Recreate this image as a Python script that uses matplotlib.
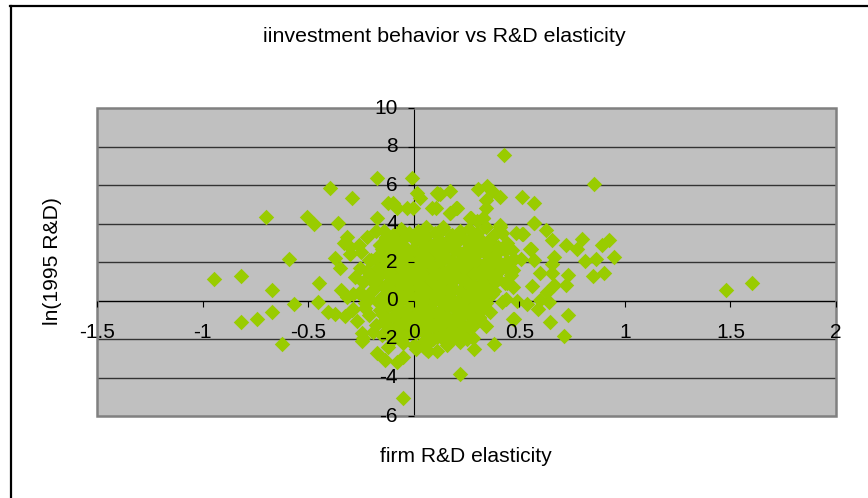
import matplotlib
matplotlib.use('Agg')
import matplotlib.pyplot as plt
from matplotlib.transforms import ScaledTranslation

plt.rcParams['font.family'] = ['Liberation Sans', 'DejaVu Sans']
plt.rcParams['axes.unicode_minus'] = False

# points: scattered ones first, then the dense middle
elasticity_outer = [
    .427, .853, 1.60, 1.48, .95, .924, .89, .90, .85, .863, .796, .81, .773, .72, .73, .72, .73, .71, .645, .654,
    .625, .569, .569, .512, .554, .569, .663, .654, .60, .654, .56, .663, .63, .597, .64, .588, .535, .474, .34, .469,
    .436, .488, .512, .483, .41, .464, .507, .474, .41, .346, .303, .37, .34, .34, .17, .114, .20, .17, .104, .27,
    .33, .30, .14, -.01, -.175, -.398, -.294, -.70, -.507, -.474, -.36, -.175, -.318, -.123, -.10, -.08, -.033, -.005, .014, .028,
    .109, .123, .17, .085, .204, .265, .327, .408, .517, .55, .569, -.59, -.948, -.82, -.673, -.45, -.455, -.569, -.673, -.74,
    -.82, -.626, -.407, -.374, -.327, -.27, -.346, -.318, -.289, -.242, -.289, -.374, -.35, -.256, -.28, -.246, -.246, -.175, -.137, -.08,
    -.05, -.052, .06, .218, .38, .284, .066, .076, .16, .218, .28, .232, .47, -.194, -.123, -.147, -.242, -.30, -.33, -.26,
    -.22, -.18, -.30, -.25, -.21, -.16, -.13, -.20, -.17, -.12, -.29, -.23, -.19,
]
rd_outer = [
    7.58, 6.03, .93, .52, 2.28, 3.12, 2.9, 1.45, 1.25, 2.18, 3.2, 2.03, 2.7, 2.9, 1.3, .78, -.73, -1.87, -1.14, 3.12,
    3.64, 4.05, 5.09, 5.4, 2.7, 2.08, 2.28, 1.92, 1.45, 1.45, .73, .78, .42, .05, -.1, -.42, -.2, -.94, -1.35, .68,
    .1, -.05, 3.48, 3.53, 3.8, 2.6, 2.18, 2.18, 5.4, 5.97, 5.77, 5.7, 5.2, 4.83, 5.7, 5.55, 4.83, 4.57, 4.83, 4.26,
    4.26, 4.15, 3.8, 6.34, 6.34, 5.82, 5.3, 4.36, 4.36, 3.95, 4.05, 4.26, 3.32, 5.09, 5.09, 4.83, 4.78, 4.78, 5.6, 5.3,
    5.6, 5.55, 4.57, 4.78, 4.78, 4.26, 4.26, 3.9, 3.43, 2.7, 4.05, 2.18, 1.14, 1.25, .52, .93, -.1, -.2, -.62, -.94,
    -1.14, -2.28, -.62, -.68, -.83, -1.04, .52, .16, .36, .26, -.42, 2.23, 1.71, 1.71, 1.2, -1.71, -2.08, -2.75, -3.1, -3.2,
    -2.96, -5.09, -2.54, -3.84, -2.28, -2.5, -2.6, -2.08, -1.97, -2.18, -1.97, -1.82, -.94, -1.66, -2.44, -1.14, -1.97, 2.8, 3.0, 2.9,
    3.3, 3.6, 2.4, 2.5, 2.1, 2.9, 3.3, 1.3, 1.7, 2.2, -.5, -.4, .9,
]
elasticity_mid = [
    -.14, -.10, -.06, -.02, .02, .06, .10, .14, .18, .22, .26, .30, .34, .38, .42,
    -.16, -.12, -.08, -.04, .00, .04, .08, .12, .16, .20, .24, .28, .32, .36, .40, .44,
    -.18, -.13, -.09, -.05, -.01, .03, .07, .11, .15, .19, .23, .27, .31, .35, .39, .43,
    -.15, -.11, -.07, -.03, .01, .05, .09, .13, .17, .21, .25, .29, .33, .37, .41, .45,
    -.17, -.12, -.08, -.04, .00, .04, .08, .12, .16, .20, .24, .28, .32, .36, .40,
    -.19, -.14, -.10, -.06, -.02, .02, .06, .10, .14, .18, .22, .26, .30, .34, .38,
    -.21, -.15, -.11, -.07, -.03, .01, .05, .09, .13, .17, .21, .25, .29, .33,
    -.16, -.12, -.08, -.04, .00, .04, .08, .12, .16, .20, .24, .28, .32,
    -.13, -.09, -.05, -.01, .03, .07, .11, .15, .19, .23, .27, .31,
    -.12, -.07, -.03, .02, .06, .10, .14, .18, .22, .26,
    -.10, -.05, .00, .05, .09, .13, .17, .21, .25,
    .01, .05, .11, .16, .21, .26, .31, .36, .42, .39, .44, .35, .47, .30,
]
rd_mid = [
    3.6, 3.4, 3.7, 3.5, 3.6, 3.8, 3.5, 3.7, 3.4, 3.6, 3.7, 3.5, 3.8, 3.4, 3.5,
    2.9, 3.0, 3.1, 2.8, 3.2, 3.0, 2.9, 3.1, 2.8, 3.0, 3.2, 2.9, 3.0, 3.1, 2.8, 3.0,
    2.2, 2.4, 2.5, 2.3, 2.6, 2.4, 2.2, 2.5, 2.3, 2.6, 2.4, 2.2, 2.5, 2.3, 2.4, 2.6,
    1.7, 1.9, 1.8, 2.0, 1.7, 1.9, 1.8, 2.0, 1.7, 1.9, 1.8, 2.0, 1.7, 1.9, 1.8, 1.6,
    1.2, 1.3, 1.1, 1.4, 1.2, 1.3, 1.1, 1.4, 1.2, 1.3, 1.1, 1.4, 1.2, 1.3, 1.1,
    .6, .7, .5, .8, .6, .7, .5, .8, .6, .7, .5, .8, .6, .7, .5,
    .1, .2, .0, .3, .1, .2, .0, .3, .1, .2, .0, .3, .1, .2,
    -.5, -.3, -.4, -.6, -.3, -.5, -.4, -.6, -.3, -.5, -.4, -.3, -.5,
    -1.0, -.8, -1.1, -.9, -1.0, -.8, -1.1, -.9, -1.0, -.8, -1.1, -.9,
    -1.6, -1.4, -1.7, -1.5, -1.6, -1.4, -1.7, -1.5, -1.6, -1.4,
    -2.0, -2.2, -2.3, -2.1, -2.0, -1.9, -2.1, -1.8, -2.0,
    -2.5, -2.4, -2.6, -2.3, -1.9, -.7, -.2, -.6, -.1, 1.0, .9, 1.7, 1.6, 2.5,
]
# the solid core of the cloud, where single points can no longer be told apart
elasticity_core = [
    -.13, -.09, -.04, .01, .06, .12, .17, .21, .27, .32, .37,
    -.15, -.10, -.05, .00, .05, .10, .15, .20, .25, .30, .35, .40,
    -.20, -.14, -.09, -.03, .02, .07, .13, .18, .23, .29, .34, .39, .44,
    -.22, -.16, -.11, -.06, -.01, .04, .09, .14, .19, .24, .29, .35, .40, .46,
    -.24, -.18, -.12, -.07, -.02, .03, .08, .13, .18, .23, .28, .33, .38, .43,
    -.26, -.20, -.13, -.08, -.03, .02, .07, .12, .17, .22, .27, .32, .37,
    -.23, -.17, -.11, -.06, -.01, .04, .09, .14, .19, .24, .29, .34,
    -.21, -.15, -.10, -.04, .01, .06, .11, .16, .21, .26, .31,
    -.18, -.12, -.07, -.02, .03, .08, .13, .18, .23, .28,
    -.15, -.09, -.04, .01, .06, .11, .16, .21,
]
rd_core = [
    3.25, 3.15, 3.3, 3.2, 3.35, 3.15, 3.25, 3.3, 3.2, 3.15, 3.3,
    2.7, 2.65, 2.75, 2.6, 2.7, 2.55, 2.75, 2.65, 2.7, 2.6, 2.75, 2.65,
    2.1, 2.15, 2.05, 2.2, 2.1, 2.0, 2.15, 2.05, 2.2, 2.1, 2.0, 2.15, 2.05,
    1.55, 1.6, 1.5, 1.65, 1.55, 1.45, 1.6, 1.5, 1.55, 1.65, 1.45, 1.55, 1.5, 1.35,
    .95, 1.0, .9, 1.05, .95, .85, 1.0, .9, .95, 1.05, .85, .95, 1.0, .9,
    .4, .45, .35, .5, .4, .3, .45, .35, .4, .5, .3, .4, .35,
    -.15, -.1, -.2, -.05, -.15, -.25, -.1, -.2, -.15, -.05, -.25, -.15,
    -.75, -.7, -.8, -.65, -.75, -.85, -.7, -.8, -.75, -.65, -.85,
    -1.25, -1.3, -1.2, -1.35, -1.25, -1.15, -1.3, -1.2, -1.25, -1.35,
    -1.8, -1.75, -1.85, -1.7, -1.8, -1.9, -1.75, -1.85,
]

x_ticks = [-1.5, -1, -.5, 0, .5, 1, 1.5, 2]
x_labels = ['-1.5', '-1', '-0.5', '0', '0.5', '1', '1.5', '2']
y_ticks = [-6, -4, -2, 0, 2, 4, 6, 8, 10]

fig = plt.figure(figsize=(8.68, 4.98), dpi=100)
ax = fig.add_axes([97 / 868, 1 - 416 / 498, (836 - 97) / 868, (416 - 108) / 498])
ax.set_facecolor('#C0C0C0')
ax.set_xlim(-1.5, 2)
ax.set_ylim(-6, 10)

ax.hlines(y_ticks[1:-1], -1.5, 2, color='#333333', linewidth=1.0, zorder=1)
ax.scatter(elasticity_outer + elasticity_mid + elasticity_core, rd_outer + rd_mid + rd_core, marker='D', s=62,
           color='#99CC00', linewidths=0, zorder=3, clip_on=False)

# axes cross at zero like a spreadsheet chart
for side in ['top', 'right']:
    ax.spines[side].set_visible(False)
for side in ['left', 'bottom']:
    ax.spines[side].set_position(('data', 0))
    ax.spines[side].set_color('black')
    ax.spines[side].set_linewidth(0.8)
    ax.spines[side].set_zorder(2)
ax.add_patch(plt.Rectangle((0, 0), 1, 1, transform=ax.transAxes, fill=False, edgecolor='#808080',
                           linewidth=1.8, zorder=2.5, clip_on=False))

ax.set_xticks(x_ticks)
ax.set_xticklabels(x_labels)
ax.set_yticks(y_ticks)
ax.tick_params(axis='both', labelsize=15, length=4.5, width=0.8, color='black', labelcolor='black')
ax.tick_params(axis='x', pad=12)
ax.tick_params(axis='y', pad=7)
# tick numbers sit on top of the points in the reference
ax.xaxis.set_zorder(4)
ax.yaxis.set_zorder(4)
for lab in ax.get_yticklabels():
    lab.set_transform(lab.get_transform() + ScaledTranslation(0, 2 / 100, fig.dpi_scale_trans))

fig.text(444 / 868, 1 - 36.5 / 498, 'iinvestment behavior vs R&D elasticity', fontsize=15.4, ha='center', va='center')
fig.text(466 / 868, 1 - 456 / 498, 'firm R&D elasticity', fontsize=15.1, ha='center', va='center')
fig.text(53 / 868, 1 - 261 / 498, 'ln(1995 R&D)', fontsize=15.2, rotation=90, ha='center', va='center')

# chart frame shows only on the top and left of the picture
fig.add_artist(plt.Line2D([10.5 / 868, 10.5 / 868], [0, 1 - 6 / 498], color='black', linewidth=1.6))
fig.add_artist(plt.Line2D([10 / 868, 1], [1 - 6 / 498, 1 - 6 / 498], color='black', linewidth=1.6))

fig.savefig('out.png', dpi=100)
